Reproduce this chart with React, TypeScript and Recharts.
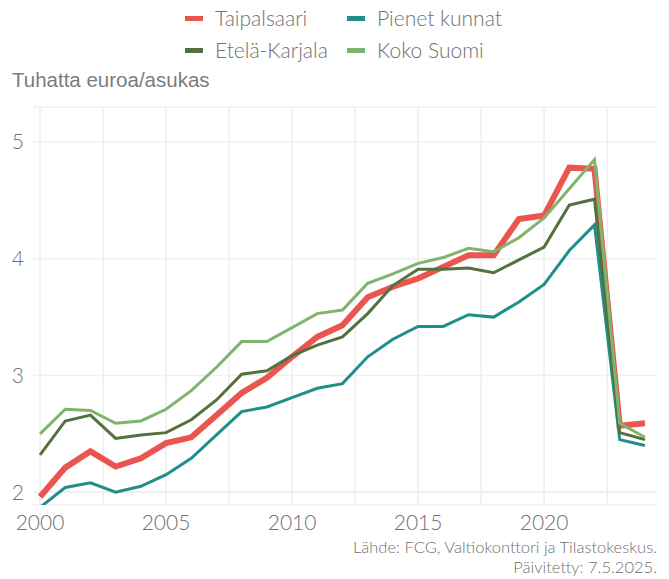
import React from "react";
import { LineChart, Line, XAxis, YAxis, CartesianGrid, ReferenceLine } from "recharts";

const years = [2000, 2001, 2002, 2003, 2004, 2005, 2006, 2007, 2008, 2009, 2010, 2011, 2012, 2013, 2014, 2015, 2016, 2017, 2018, 2019, 2020, 2021, 2022, 2023, 2024];
const taipalsaari = [1.96, 2.21, 2.35, 2.22, 2.29, 2.42, 2.47, 2.66, 2.85, 2.98, 3.16, 3.33, 3.43, 3.67, 3.76, 3.83, 3.93, 4.03, 4.03, 4.34, 4.37, 4.78, 4.77, 2.57, 2.59];
const pienetKunnat = [1.87, 2.04, 2.08, 2.0, 2.05, 2.15, 2.29, 2.49, 2.69, 2.73, 2.81, 2.89, 2.93, 3.16, 3.31, 3.42, 3.42, 3.52, 3.5, 3.63, 3.78, 4.07, 4.29, 2.45, 2.4];
const etelaKarjala = [2.32, 2.61, 2.66, 2.46, 2.49, 2.51, 2.62, 2.79, 3.01, 3.04, 3.17, 3.26, 3.33, 3.53, 3.77, 3.91, 3.91, 3.92, 3.88, 3.99, 4.1, 4.46, 4.51, 2.51, 2.45];
const kokoSuomi = [2.5, 2.71, 2.7, 2.59, 2.61, 2.71, 2.87, 3.07, 3.29, 3.29, 3.41, 3.53, 3.56, 3.79, 3.87, 3.96, 4.01, 4.09, 4.06, 4.18, 4.35, 4.6, 4.85, 2.59, 2.47];

const xTicks = [2000, 2005, 2010, 2015, 2020];
const xGrid = [2000, 2002.5, 2005, 2007.5, 2010, 2012.5, 2015, 2017.5, 2020, 2022.5];
const yTicks = [2, 3, 4, 5];

const seriesNames = ["Taipalsaari", "Pienet kunnat", "Etelä-Karjala", "Koko Suomi"];
const colors = ["#ea5550", "#1f8f8a", "#52713f", "#80b46c"];

const data = years.map((y, i) => ({
  year: y,
  t: taipalsaari[i],
  p: pienetKunnat[i],
  e: etelaKarjala[i],
  k: kokoSuomi[i],
}));

const lightFont = "Lato, 'Open Sans', sans-serif";
const textColor = "#707070";

function LegendItem({ color, label, left, top }: { color: string; label: string; left: number; top: number }) {
  return (
    <div style={{ position: "absolute", left, top, height: 26, display: "flex", alignItems: "center", fontFamily: lightFont, fontWeight: 300, fontSize: 21, lineHeight: "26px", color: textColor, whiteSpace: "nowrap" }}>
      <div style={{ width: 18, height: 5, background: color, marginRight: 12 }} />
      <span>{label}</span>
    </div>
  );
}

export default function App() {
  return (
    <div style={{ position: "absolute", left: 0, top: 0, width: 669, height: 579, background: "#fff", overflow: "hidden" }}>
      <LegendItem color={colors[0]} label={seriesNames[0]} left={185} top={5} />
      <LegendItem color={colors[1]} label={seriesNames[1]} left={347} top={5} />
      <LegendItem color={colors[2]} label={seriesNames[2]} left={185} top={37} />
      <LegendItem color={colors[3]} label={seriesNames[3]} left={347} top={37} />
      <div style={{ position: "absolute", left: 12, top: 68, fontFamily: "'Liberation Sans', Arial, sans-serif", fontSize: 20.5, lineHeight: "24px", color: "#7c7c7c" }}>
        Tuhatta euroa/asukas
      </div>
      <LineChart width={669} height={579} data={data} margin={{ top: 107, right: 12, left: 0, bottom: 44 }}>
        <CartesianGrid vertical={false} stroke="#efefef" strokeWidth={1.6} />
        {xGrid.map((g) => (
          <ReferenceLine key={g} x={g} stroke="#efefef" strokeWidth={1.6} />
        ))}
        <XAxis
          dataKey="year"
          type="number"
          domain={[1999.72, 2024.48]}
          ticks={xTicks}
          axisLine={false}
          tickLine={false}
          height={30}
          tickMargin={4}
          tick={{ fontSize: 21, fill: textColor, fontFamily: lightFont, fontWeight: 300 }}
          allowDataOverflow
        />
        <YAxis
          type="number"
          domain={[1.89, 5.3]}
          ticks={yTicks}
          axisLine={false}
          tickLine={false}
          width={33}
          tickMargin={3}
          tick={{ fontSize: 21, fill: textColor, fontFamily: lightFont, fontWeight: 300 }}
          allowDataOverflow
        />
        <Line dataKey="t" stroke={colors[0]} strokeWidth={6} dot={false} isAnimationActive={false} />
        <Line dataKey="p" stroke={colors[1]} strokeWidth={3} dot={false} isAnimationActive={false} />
        <Line dataKey="e" stroke={colors[2]} strokeWidth={3} dot={false} isAnimationActive={false} />
        <Line dataKey="k" stroke={colors[3]} strokeWidth={3} dot={false} isAnimationActive={false} />
      </LineChart>
      <div style={{ position: "absolute", right: 12, top: 537, textAlign: "right", fontFamily: lightFont, fontWeight: 300, fontSize: 16.5, color: textColor, lineHeight: "20px" }}>
        Lähde: FCG, Valtiokonttori ja Tilastokeskus.<br />Päivitetty: 7.5.2025.
      </div>
    </div>
  );
}
